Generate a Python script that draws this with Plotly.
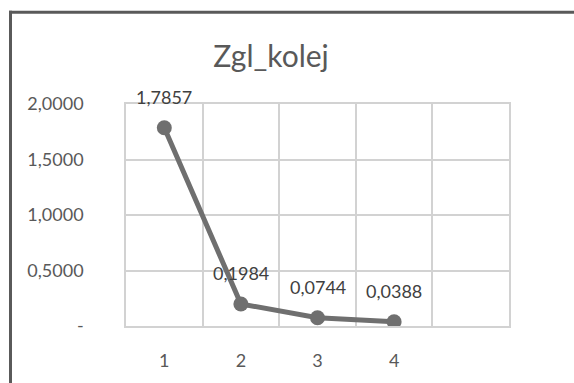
import plotly.graph_objects as go

# Series data
categories = [1, 2, 3, 4]
values = [1.7857, 0.1984, 0.0744, 0.0388]
value_labels = ["1,7857", "0,1984", "0,0744", "0,0388"]

# Axis ticks
y_tickvals = [0, 0.5, 1.0, 1.5, 2.0]
y_ticktext = ["-", "0,5000", "1,0000", "1,5000", "2,0000"]
x_tickvals = [1, 2, 3, 4]
x_ticktext = ["1", "2", "3", "4"]
x_gridvals = [0.5, 1.5, 2.5, 3.5, 4.5, 5.5]

W, H = 574, 383
ML, MR, MT, MB = 126, 65, 104, 54
PW, PH = W - ML - MR, H - MT - MB

FONT = "Lato, Open Sans, sans-serif"
LINE_COLOR = "#6f6f6f"
GRID_COLOR = "#d2d2d2"
TEXT_COLOR = "#595959"

fig = go.Figure()
fig.add_trace(go.Scatter(
    x=categories, y=values, mode="lines+markers",
    line=dict(color=LINE_COLOR, width=5),
    marker=dict(color=LINE_COLOR, size=15),
    hoverinfo="skip", showlegend=False,
))

# Value labels above each point
for xv, yv, txt in zip(categories, values, value_labels):
    fig.add_annotation(x=xv, y=yv, text=txt, showarrow=False,
                       yshift=31, xanchor="center", yanchor="middle",
                       font=dict(family=FONT, size=18, color="#404040"))

def px_x(p):
    return (p - ML) / PW

def px_y(p):
    return (H - MB - p) / PH

# Outer chart frame (top and left edges)
fig.add_shape(type="line", xref="paper", yref="paper",
              x0=px_x(9), x1=px_x(580), y0=px_y(11), y1=px_y(11),
              line=dict(color="#5a5a5a", width=3))
fig.add_shape(type="line", xref="paper", yref="paper",
              x0=px_x(10.5), x1=px_x(10.5), y0=px_y(9.5), y1=px_y(390),
              line=dict(color="#5a5a5a", width=3))

fig.update_layout(
    width=W, height=H,
    margin=dict(l=ML, r=MR, t=MT, b=MB),
    paper_bgcolor="white", plot_bgcolor="white",
    title=dict(text="Zgl_kolej", xref="container", x=271 / W, xanchor="center",
               yref="container", y=1 - 56 / H, yanchor="middle",
               font=dict(family=FONT, size=30, color=TEXT_COLOR)),
    xaxis=dict(range=[0.5, 5.5], tickvals=x_tickvals, ticktext=x_ticktext,
               showgrid=False, zeroline=False, showline=True, mirror=True,
               linecolor=GRID_COLOR, linewidth=1.5, ticks="",
               ticklabelstandoff=18,
               minor=dict(tickvals=x_gridvals, showgrid=True,
                          gridcolor=GRID_COLOR, gridwidth=1.5, ticks=""),
               tickfont=dict(family=FONT, size=18, color=TEXT_COLOR)),
    yaxis=dict(range=[0, 2.0], tickvals=y_tickvals, ticktext=y_ticktext,
               showgrid=True, gridcolor=GRID_COLOR, gridwidth=1.5,
               zeroline=False, showline=True, mirror=True,
               linecolor=GRID_COLOR, linewidth=1.5, ticks="",
               ticklabelstandoff=37,
               tickfont=dict(family=FONT, size=18, color=TEXT_COLOR)),
)

fig.write_html("out.html")
